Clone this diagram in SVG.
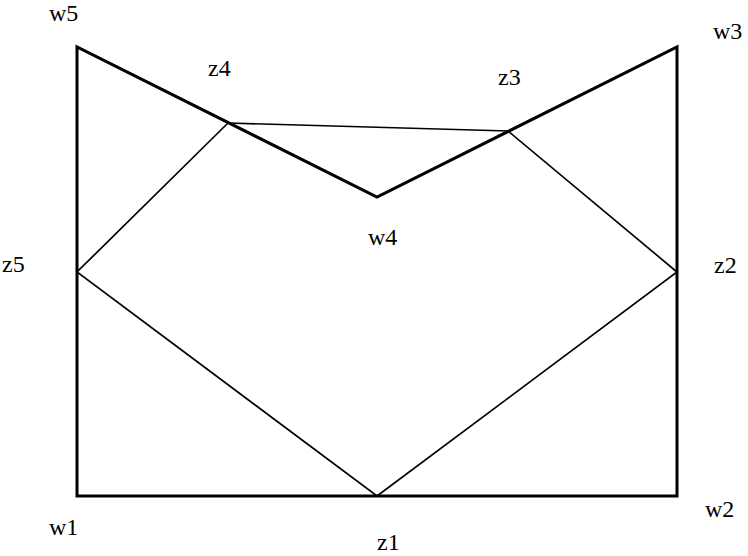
<svg xmlns="http://www.w3.org/2000/svg" width="748" height="556" viewBox="0 0 748 556">
<style>
.bg{fill:#fff}
.thick{fill:none;stroke:#000;stroke-width:3;stroke-linejoin:miter}
.thin{fill:none;stroke:#000;stroke-width:1.7;stroke-linejoin:miter}
.lbl{font-size:24px;fill:#000}
</style>
<rect class="bg" width="748" height="556"/>
<g id="connectors">
<polygon class="thick" points="77,496 677,496 677,47 377,197 77,47"/>
<polygon class="thin" points="377,496 677,272 508,131 228,123 77,272"/>
</g>
<g font-family="Liberation Serif, DejaVu Serif, serif">
<g id="w1"><text class="lbl" x="49" y="535">w1</text></g>
<g id="w2"><text class="lbl" x="705" y="517">w2</text></g>
<g id="w3"><text class="lbl" x="713" y="39">w3</text></g>
<g id="w4"><text class="lbl" x="368" y="245">w4</text></g>
<g id="w5"><text class="lbl" x="49" y="21">w5</text></g>
<g id="z1"><text class="lbl" x="377" y="550">z1</text></g>
<g id="z2"><text class="lbl" x="714" y="273">z2</text></g>
<g id="z3"><text class="lbl" x="498" y="85">z3</text></g>
<g id="z4"><text class="lbl" x="208" y="76">z4</text></g>
<g id="z5"><text class="lbl" x="2" y="272">z5</text></g>
</g>
</svg>
